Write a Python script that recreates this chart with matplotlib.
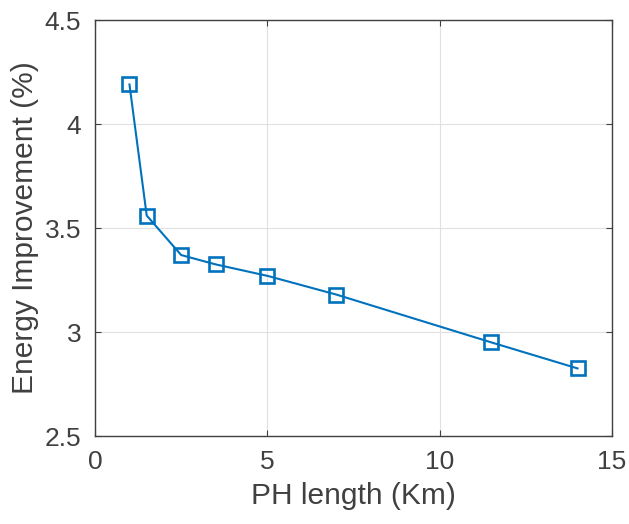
import matplotlib
matplotlib.use("Agg")
import matplotlib.pyplot as plt

ph_length = [1, 1.5, 2.5, 3.5, 5, 7, 11.5, 14]
energy_improvement = [4.19, 3.56, 3.37, 3.325, 3.27, 3.18, 2.95, 2.825]
x_ticks = [0, 5, 10, 15]
y_ticks = [2.5, 3, 3.5, 4, 4.5]
x_tick_labels = ["0", "5", "10", "15"]
y_tick_labels = ["2.5", "3", "3.5", "4", "4.5"]

plt.rcParams['font.family'] = ['Liberation Sans', 'DejaVu Sans']

fig = plt.figure(figsize=(6.29, 5.24), dpi=100)
ax = fig.add_axes([95/629, 1 - 436/524, (612 - 95)/629, (436 - 20)/524])

ax.plot(ph_length, energy_improvement, color='#0072BD', linewidth=1.5,
        marker='s', markersize=10.5, markerfacecolor='none',
        markeredgecolor='#0072BD', markeredgewidth=1.9)

ax.set_xlim(0, 15)
ax.set_ylim(2.5, 4.5)
ax.set_xticks(x_ticks)
ax.set_xticklabels(x_tick_labels)
ax.set_yticks(y_ticks)
ax.set_yticklabels(y_tick_labels)

ax.grid(True, color='#e0e0e0', linewidth=0.8)
ax.set_axisbelow(True)
for s in ax.spines.values():
    s.set_color('#404040')
    s.set_linewidth(1.0)

ax.tick_params(direction='in', length=4, width=0.8, color='#404040',
               labelsize=19, labelcolor='#404040', top=True, right=True)
ax.tick_params(axis='x', pad=10)
ax.tick_params(axis='y', pad=10)

ax.set_xlabel('PH length (Km)', fontsize=21.5, color='#404040', labelpad=6)
ax.set_ylabel('Energy Improvement (%)', fontsize=21.5, color='#404040', labelpad=4)

fig.savefig('out.png', dpi=100)
